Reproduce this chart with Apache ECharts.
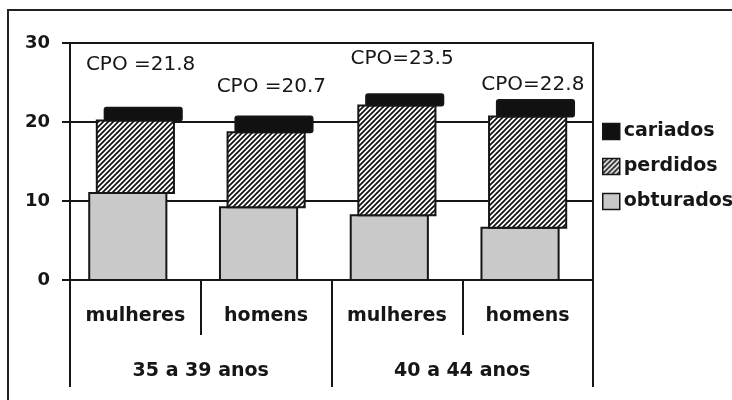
<!DOCTYPE html>
<html>
<head>
<meta charset="utf-8">
<script src="https://cdn.jsdelivr.net/npm/echarts@6/dist/echarts.min.js"></script>
<style>
html,body{margin:0;padding:0;background:#fff;}
#chart{width:732px;height:400px;}
</style>
</head>
<body>
<div id="chart"></div>
<script>
// ---- data ----
const categories = ['mulheres', 'homens', 'mulheres', 'homens'];
const groups = ['35 a 39 anos', '40 a 44 anos'];
const obturados = [11.0, 9.2, 8.2, 6.6];
const perdidos = [9.2, 9.5, 13.9, 14.1];
const cariados = [1.6, 2.0, 1.4, 2.1];
const cpoLabels = ['CPO =21.8', 'CPO =20.7', 'CPO=23.5', 'CPO=22.8'];
const yTicks = [0, 10, 20, 30];

// ---- layout / style ----
const cpoLabelLift = [5.5, 3.8, 4.5, 1.9];
const FONT = '"DejaVu Sans", Verdana, sans-serif';
const INK = '#161616';

function hatchPattern() {
  const s = 5;
  const c = document.createElement('canvas');
  c.width = s; c.height = s;
  const g = c.getContext('2d');
  g.fillStyle = '#fff'; g.fillRect(0, 0, s, s);
  g.strokeStyle = '#111'; g.lineWidth = 1.7;
  g.beginPath();
  g.moveTo(-1, s + 1); g.lineTo(s + 1, -1);
  g.moveTo(-1, 1); g.lineTo(1, -1);
  g.moveTo(s - 1, s + 1); g.lineTo(s + 1, s - 1);
  g.stroke();
  return c;
}

// stacked bounds built from the series arrays
const base1 = obturados.map(v => 0);
const base2 = obturados.slice();
const base3 = obturados.map((v, i) => v + perdidos[i]);
const totals = base3.map((v, i) => v + cariados[i]);

function barRender(shiftFrac, radius) {
  return function (params, api) {
    const i = api.value(0);
    const lo = api.coord([i, api.value(1)]);
    const hi = api.coord([i, api.value(2)]);
    const band = api.size([1, 0])[0];
    const w = band * 0.59;
    const x = lo[0] - w / 2 + band * shiftFrac;
    return {
      type: 'rect',
      shape: { x: x, y: hi[1], width: w, height: lo[1] - hi[1], r: radius },
      style: api.style({ stroke: INK, lineWidth: 2 })
    };
  };
}

const chart = echarts.init(document.getElementById('chart'), null, { renderer: 'canvas' });

const option = {
  animation: false,
  backgroundColor: '#fff',
  textStyle: { fontFamily: FONT },
  graphic: [{
    type: 'rect',
    shape: { x: 8, y: 10, width: 740, height: 420 },
    style: { fill: 'none', stroke: '#222', lineWidth: 2 },
    z: 100
  }],
  grid: {
    left: 70, right: 139, top: 43, bottom: 120,
    show: true, borderColor: INK, borderWidth: 2, backgroundColor: 'transparent'
  },
  legend: {
    orient: 'vertical',
    left: 597, top: 117,
    icon: 'rect',
    itemWidth: 17, itemHeight: 16,
    itemGap: 16,
    data: ['cariados', 'perdidos', 'obturados'],
    itemStyle: { borderColor: INK, borderWidth: 1.5 },
    textStyle: { fontFamily: FONT, fontWeight: 'bold', fontSize: 19, color: INK, padding: [0, 0, 0, -1] },
    selectedMode: false
  },
  xAxis: [{
    type: 'category',
    data: categories,
    position: 'bottom',
    boundaryGap: true,
    axisLine: { show: true, lineStyle: { color: INK, width: 2 } },
    axisTick: { show: true, interval: 0, length: 55, lineStyle: { color: INK, width: 2 } },
    axisLabel: { interval: 0, margin: 27, fontFamily: FONT, fontWeight: 'bold', fontSize: 19, color: INK }
  }, {
    type: 'category',
    data: groups,
    position: 'bottom',
    offset: 0,
    boundaryGap: true,
    axisLine: { show: false },
    axisTick: { show: true, interval: 0, length: 107, lineStyle: { color: INK, width: 2 } },
    axisLabel: { interval: 0, margin: 82, fontFamily: FONT, fontWeight: 'bold', fontSize: 19, color: INK }
  }],
  yAxis: {
    type: 'value',
    min: yTicks[0], max: yTicks[yTicks.length - 1], interval: 10,
    axisLine: { show: true, lineStyle: { color: INK, width: 2 } },
    axisTick: { show: true, length: 8, lineStyle: { color: INK, width: 2 } },
    axisLabel: { margin: 20, fontFamily: FONT, fontWeight: 'bold', fontSize: 18, color: INK },
    splitLine: { show: true, lineStyle: { color: INK, width: 2 } }
  },
  series: [{
    name: 'obturados',
    type: 'custom',
    renderItem: barRender(-0.058, 0),
    itemStyle: { color: '#c9c9c9' },
    encode: { x: 0, y: [1, 2] },
    data: obturados.map((v, i) => [i, base1[i], base1[i] + v]),
    z: 3
  }, {
    name: 'perdidos',
    type: 'custom',
    renderItem: barRender(0, 0),
    itemStyle: { color: { image: hatchPattern(), repeat: 'repeat' } },
    encode: { x: 0, y: [1, 2] },
    data: perdidos.map((v, i) => [i, base2[i], base2[i] + v]),
    z: 4
  }, {
    name: 'cariados',
    type: 'custom',
    renderItem: barRender(0.06, 2),
    itemStyle: { color: '#111' },
    encode: { x: 0, y: [1, 2] },
    data: cariados.map((v, i) => [i, base3[i], base3[i] + v]),
    z: 5
  }, {
    type: 'custom',
    silent: true,
    renderItem: function (params, api) {
      const p = api.coord([api.value(0), api.value(1)]);
      const band = api.size([1, 0])[0];
      return {
        type: 'text',
        x: p[0] + band * 0.04, y: p[1],
        style: {
          text: cpoLabels[params.dataIndex],
          font: '20px ' + FONT,
          fill: INK,
          align: 'center', verticalAlign: 'middle'
        }
      };
    },
    encode: { x: 0, y: 1 },
    data: totals.map((t, i) => [i, t + cpoLabelLift[i]]),
    z: 6
  }]
};

chart.setOption(option);
</script>
</body>
</html>
